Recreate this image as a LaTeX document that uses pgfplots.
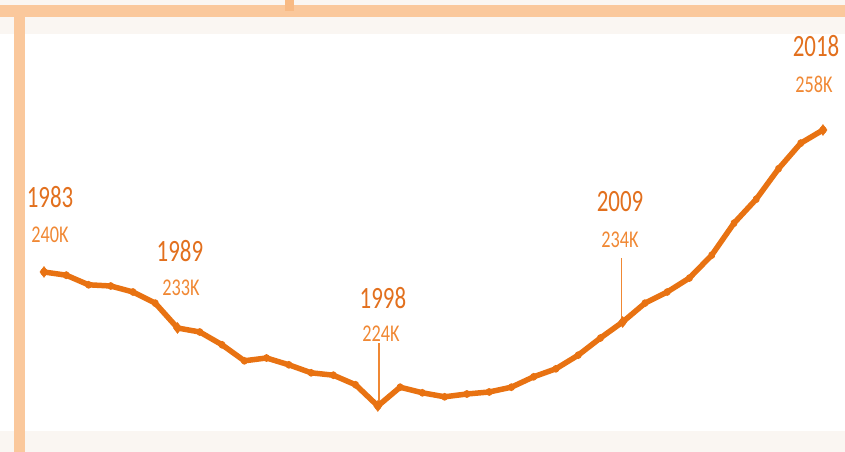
\documentclass[border=0pt]{standalone}
\usepackage{fontspec}
\setmainfont{Carlito}
\usepackage{graphicx}
\usepackage{pgfplots}
\usepackage{pgfplotstable}
\pgfplotsset{compat=1.18}
\definecolor{lineor}{RGB}{232,114,18}
\definecolor{yearor}{RGB}{226,112,30}
\definecolor{valor}{RGB}{240,136,52}
\definecolor{peach}{RGB}{250,200,156}
\definecolor{peachdark}{RGB}{248,186,132}
\definecolor{cream}{RGB}{250,246,242}
\tikzset{
  yr/.style={text=yearor, font=\fontsize{31}{31}\selectfont, inner sep=0pt},
  vl/.style={text=valor, font=\fontsize{24}{24}\selectfont, inner sep=0pt},
}

\pgfplotstableread{
year value
1983 240.0
1984 239.6
1985 238.4
1986 238.25
1987 237.5
1988 236.1
1989 233.0
1990 232.5
1991 230.9
1992 228.9
1993 229.25
1994 228.4
1995 227.4
1996 227.1
1997 225.9
1998 223.25
1999 225.6
2000 224.9
2001 224.4
2002 224.75
2003 225.0
2004 225.6
2005 226.9
2006 227.9
2007 229.6
2008 231.75
2009 233.75
2010 236.1
2011 237.5
2012 239.25
2013 242.1
2014 246.1
2015 249.1
2016 252.9
2017 256.1
2018 257.75
}\datatable

\begin{document}
\begin{tikzpicture}
\begin{axis}[
  scale only axis,
  width=845pt, height=452pt,
  xmin=1981.023, xmax=2018.989,
  ymin=217.5, ymax=274,
  axis lines=none,
  clip=false,
]
% background decorations
\fill[cream] (rel axis cs:0,1) rectangle (rel axis cs:1,0.9248);
\fill[peach] (rel axis cs:0,0.98894) rectangle (rel axis cs:1,0.96239);
\fill[peachdark] (rel axis cs:0.33728,1) rectangle (rel axis cs:0.34793,0.97566);
\fill[cream] (rel axis cs:0,0.04646) rectangle (rel axis cs:1,0);
\fill[peach] (rel axis cs:0.01657,0.96239) rectangle (rel axis cs:0.02959,0);

% leader lines
\draw[valor, line width=1.5pt] (axis cs:1998.05,223.6) -- (axis cs:1998.05,231.1);
\draw[valor, line width=1.5pt] (axis cs:2008.95,234.0) -- (axis cs:2008.95,241.75);

% main series
\addplot[lineor, line width=5.5pt, line join=round, mark=diamond*, mark size=1.2pt,
  mark options={lineor}] table[x=year, y=value]{\datatable};
\addplot[only marks, lineor, mark=diamond*, mark size=5.5pt] coordinates {
  (1983,240.0) (1989,233.0) (1998,223.25) (2009,233.75) (2018,257.75)};

% annotations
\node[yr] at (axis cs:1983.27,249.31) {\scalebox{0.74}[1]{1983}};
\node[vl] at (axis cs:1983.27,244.6) {\scalebox{0.76}[1]{240K}};
\node[yr] at (axis cs:1989.11,242.56) {\scalebox{0.74}[1]{1989}};
\node[vl] at (axis cs:1989.16,238.0) {\scalebox{0.76}[1]{233K}};
\node[yr] at (axis cs:1998.23,236.75) {\scalebox{0.74}[1]{1998}};
\node[vl] at (axis cs:1998.14,232.25) {\scalebox{0.76}[1]{224K}};
\node[yr] at (axis cs:2008.88,248.75) {\scalebox{0.74}[1]{2009}};
\node[vl] at (axis cs:2008.88,244.0) {\scalebox{0.76}[1]{234K}};
\node[yr] at (axis cs:2017.69,268.19) {\scalebox{0.74}[1]{2018}};
\node[vl] at (axis cs:2017.6,263.5) {\scalebox{0.76}[1]{258K}};
\end{axis}
\pgfresetboundingbox
\path (current axis.south west) rectangle (current axis.north east);
\end{tikzpicture}
\end{document}
